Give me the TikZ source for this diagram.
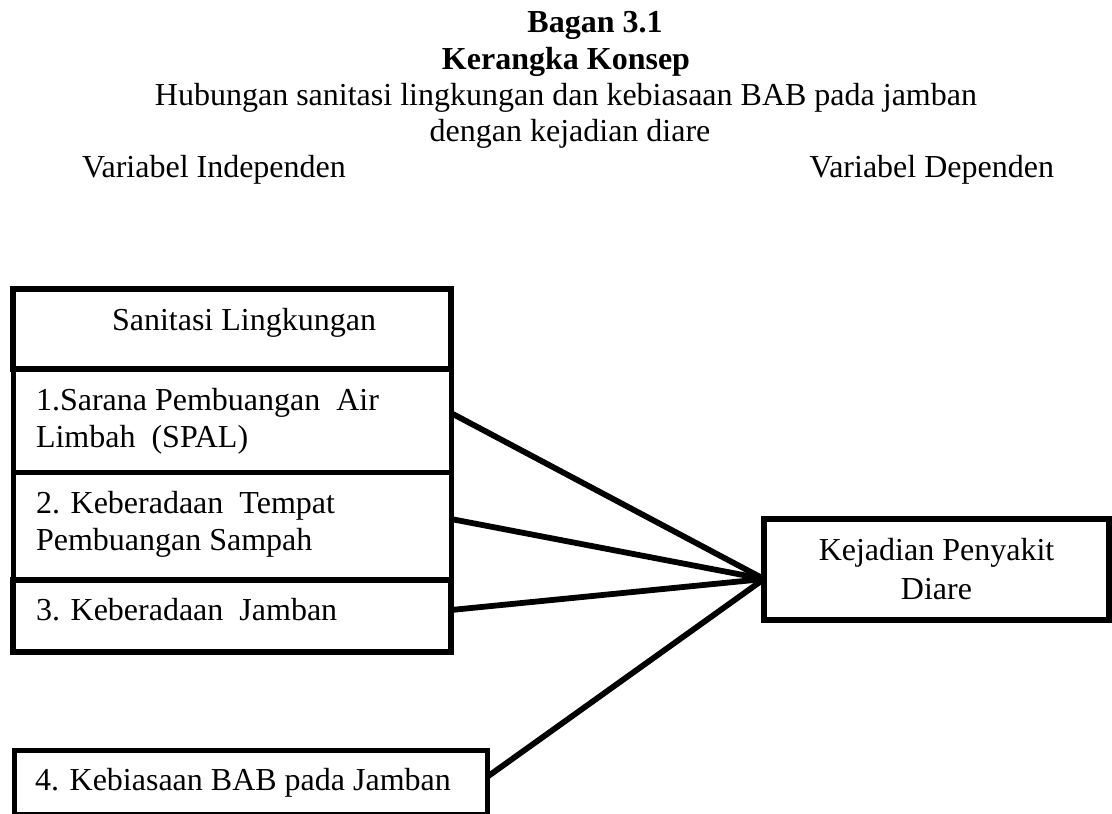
\documentclass[tikz,border=0pt]{standalone}
\usepackage{fontspec}
\setmainfont{Liberation Serif}
\begin{document}
\begin{tikzpicture}[x=0.5pt,y=-0.5pt,
  txt/.style={inner sep=0pt, outer sep=0pt, font=\fontsize{16pt}{18pt}\selectfont},
  lab/.style={txt, anchor=base west},
  ttl/.style={txt, anchor=base},
  cell/.style={draw, line width=2.5pt, inner sep=0pt, outer sep=0pt, anchor=north west, minimum width=219pt},
  conn/.style={line width=2.9pt}]
\path[fill=white,use as bounding box] (0,0) rectangle (1112,813);
% title
\node[ttl, font=\fontsize{16pt}{18pt}\selectfont\bfseries] (t1) at (595,33) {Bagan 3.1};
\node[ttl, font=\fontsize{16pt}{18pt}\selectfont\bfseries] (t2) at (566,69) {Kerangka Konsep};
\node[ttl] (t3) at (566,105) {Hubungan sanitasi lingkungan dan kebiasaan BAB pada jamban};
\node[ttl] (t4) at (570,141) {dengan kejadian diare};
\node[lab] (vi) at (82,177) {Variabel Independen};
\node[txt, anchor=base east] (vd) at (1054,177) {Variabel Dependen};
% left group
\node[cell, minimum height=40pt, line width=3.1pt] (sanitasi) at (13,289) {};
\node[cell, minimum height=51.5pt] (spal) at (13,369) {};
\node[cell, minimum height=54pt] (sampah) at (13,472) {};
\node[cell, minimum height=36pt, line width=2.9pt] (jamban) at (13,580) {};
\node[cell, minimum height=32pt, minimum width=236.5pt] (kebiasaan) at (14,750) {};
\node[lab] (ls) at (112,330) {Sanitasi Lingkungan};
\node[lab] (l1a) at (36,410) {1.Sarana Pembuangan~ Air};
\node[lab] (l1b) at (36,447) {Limbah~ (SPAL)};
\node[lab] (l2a) at (36,513) {2. Keberadaan~ Tempat};
\node[lab] (l2b) at (36,550) {Pembuangan Sampah};
\node[lab] (l3) at (36,620) {3. Keberadaan~ Jamban};
\node[lab] (l4) at (35,790) {4. Kebiasaan BAB pada Jamban};
% right box
\node[draw, line width=2.6pt, inner sep=0pt, outer sep=0pt, anchor=north west,
  minimum width=172.5pt, minimum height=50.5pt, align=center,
  font=\fontsize{16pt}{19.5pt}\selectfont] (diare) at (764,519) {Kejadian Penyakit\\Diare};
\coordinate (hub) at ([yshift=-4.75pt]diare.west);
% connectors
\draw[conn] ([yshift=3.75pt]spal.east) -- (hub);
\draw[conn] ([yshift=3.5pt]sampah.east) -- (hub);
\draw[conn] ([yshift=3pt]jamban.east) -- (hub);
\draw[conn] ([yshift=2.5pt]kebiasaan.east) -- (hub);
\end{tikzpicture}
\end{document}
